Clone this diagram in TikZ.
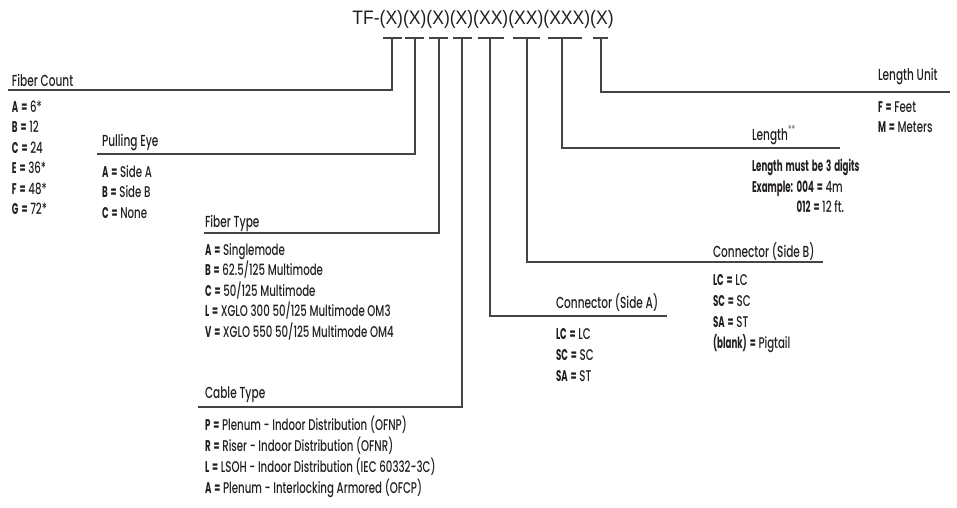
\documentclass[tikz,border=0pt]{standalone}
\usepackage{fontspec}
\setmainfont[FakeStretch=0.66]{Poppins Medium}
\newfontfamily\bfnt[FakeStretch=0.56, WordSpace=1.6]{Poppins Bold}
\newfontfamily\titlefont[FakeStretch=0.9]{Liberation Sans}
\newcommand\B[1]{{\bfnt #1}}
\definecolor{txt}{HTML}{231F20}
\definecolor{ln}{HTML}{444444}
\begin{document}
\begin{tikzpicture}[x=1pt,y=-1pt,
  every node/.style={inner sep=0pt, outer sep=0pt, text=txt},
  head/.style={anchor=base west, font=\fontsize{16}{18}\selectfont},
  item/.style={anchor=base west, font=\fontsize{15.5}{18}\selectfont},
  conn/.style={draw=ln, line width=1.2pt},
  tbar/.style={draw=ln, line width=1.2pt}]
\useasboundingbox (0,0) rectangle (957,507);
\node[anchor=base, font=\titlefont\fontsize{19.5}{22}\selectfont] (title) at (483,24) {TF-(X)(X)(X)(X)(XX)(XX)(XXX)(X)};
% tick tops
\coordinate (t1) at (392,38); \coordinate (t2) at (415,38); \coordinate (t3) at (439,38);
\coordinate (t4) at (462,38); \coordinate (t5) at (490,38); \coordinate (t6) at (527,38);
\coordinate (t7) at (562,38); \coordinate (t8) at (601,38);
% tick bars
\coordinate (b1l) at (383,38); \coordinate (b1r) at (402,38);
\coordinate (b2l) at (405,38); \coordinate (b2r) at (424,38);
\coordinate (b3l) at (429,38); \coordinate (b3r) at (448,38);
\coordinate (b4l) at (453,38); \coordinate (b4r) at (472,38);
\coordinate (b5l) at (478,38); \coordinate (b5r) at (504,38);
\coordinate (b6l) at (513,38); \coordinate (b6r) at (540,38);
\coordinate (b7l) at (548,38); \coordinate (b7r) at (582,38);
\coordinate (b8l) at (593,38); \coordinate (b8r) at (608,38);
\foreach \i in {1,...,8} {\draw[tbar] (b\i l) -- (b\i r);}
% line ends
\coordinate (e1) at (8,90);   \coordinate (e2) at (97,154);
\coordinate (e3) at (204,233); \coordinate (e4) at (198,407);
\coordinate (e5) at (667,316); \coordinate (e6) at (823,262);
\coordinate (e7) at (840,148); \coordinate (e8) at (950,92);
\foreach \i in {1,...,8} {\draw[conn] (t\i) |- (e\i);}
% Fiber Count
\node[head] (hfc) at (12,86) {Fiber Count};
\node[item] (fc1) at (12,112) {\B{A =} 6*};
\node[item] (fc2) at (12,132.5) {\B{B =} 12};
\node[item] (fc3) at (12,153) {\B{C =} 24};
\node[item] (fc4) at (12,173.5) {\B{E =} 36*};
\node[item] (fc5) at (12,194) {\B{F =} 48*};
\node[item] (fc6) at (12,214.5) {\B{G =} 72*};
% Pulling Eye
\node[head] (hpe) at (102,146) {Pulling Eye};
\node[item] (pe1) at (102,177) {\B{A =} Side A};
\node[item] (pe2) at (102,197.5) {\B{B =} Side B};
\node[item] (pe3) at (102,218) {\B{C =} None};
% Fiber Type
\node[head] (hft) at (205,227) {Fiber Type};
\node[item] (ft1) at (205,255) {\B{A =} Singlemode};
\node[item] (ft2) at (205,275.5) {\B{B =} 62.5/125 Multimode};
\node[item] (ft3) at (205,296) {\B{C =} 50/125 Multimode};
\node[item] (ft4) at (205,316.5) {\B{L =} XGLO 300 50/125 Multimode OM3};
\node[item] (ft5) at (205,337) {\B{V =} XGLO 550 50/125 Multimode OM4};
% Cable Type
\node[head] (hct) at (205,398) {Cable Type};
\node[item] (ct1) at (205,430) {\B{P =} Plenum - Indoor Distribution (OFNP)};
\node[item] (ct2) at (205,451) {\B{R =} Riser - Indoor Distribution (OFNR)};
\node[item] (ct3) at (205,472) {\B{L =} LSOH - Indoor Distribution (IEC 60332-3C)};
\node[item] (ct4) at (205,493) {\B{A =} Plenum - Interlocking Armored (OFCP)};
% Connector Side A
\node[head] (hca) at (556,308) {Connector (Side A)};
\node[item] (ca1) at (556,339) {\B{LC =} LC};
\node[item] (ca2) at (556,360) {\B{SC =} SC};
\node[item] (ca3) at (556,381) {\B{SA =} ST};
% Connector Side B
\node[head] (hcb) at (713,257) {Connector (Side B)};
\node[item] (cb1) at (713,285) {\B{LC =} LC};
\node[item] (cb2) at (713,306) {\B{SC =} SC};
\node[item] (cb3) at (713,327) {\B{SA =} ST};
\node[item] (cb4) at (713,348) {\B{(blank) =} Pigtail};
% Length
\node[head] (hl) at (752,140) {Length\textsuperscript{\color{black!55}**}};
\node[item] (l1) at (752,171) {\B{Length must be 3 digits}};
\node[item] (l2) at (752,192) {\B{Example: 004 =} 4m};
\node[item] (l3) at (752,212) {\B{\phantom{Example: }012 =} 12 ft.};
% Length Unit
\node[head] (hlu) at (878,80) {Length Unit};
\node[item] (lu1) at (878,112) {\B{F =} Feet};
\node[item] (lu2) at (878,132) {\B{M =} Meters};
\end{tikzpicture}
\end{document}
